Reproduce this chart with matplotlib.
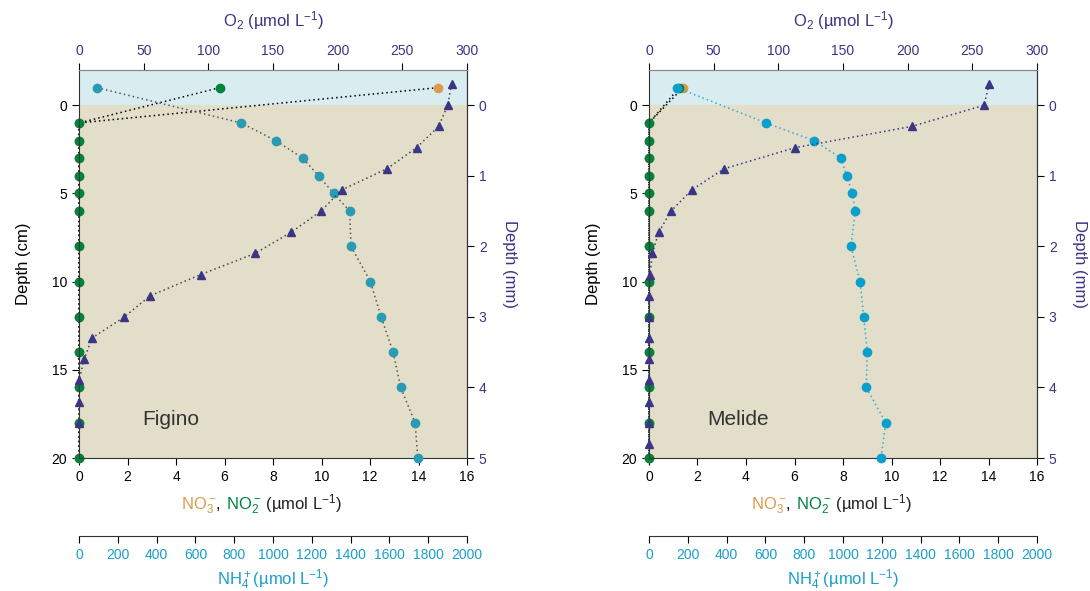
import matplotlib
matplotlib.use('Agg')
import matplotlib.pyplot as plt
from matplotlib.offsetbox import TextArea, HPacker, AnnotationBbox

plt.rcParams['font.family'] = ['Liberation Sans', 'DejaVu Sans']
plt.rcParams['mathtext.fontset'] = 'custom'
plt.rcParams['mathtext.rm'] = 'Liberation Sans'
plt.rcParams['mathtext.default'] = 'regular'

# profondeurs (cm) des nutriments, -1 = eau surnageante
depth_cm = [-1, 1, 2, 3, 4, 5, 6, 8, 10, 12, 14, 16, 18, 20]

# Figino
figino_no3 = [14.8, 0, 0, 0, 0, 0, 0, 0, 0, 0, 0, 0, 0, 0]
figino_no2 = [5.8, 0, 0, 0, 0, 0, 0, 0, 0, 0, 0, 0, 0, 0]
figino_nh4 = [93, 835, 1014, 1153, 1235, 1313, 1395, 1402, 1502, 1557, 1619, 1658, 1732, 1746]
figino_o2_mm = [-0.3, 0, 0.3, 0.6, 0.9, 1.2, 1.5, 1.8, 2.1, 2.4, 2.7, 3.0, 3.3, 3.6, 3.9, 4.2, 4.5]
figino_o2 = [288, 285, 278, 261, 238, 203, 187, 164, 136, 94, 55, 35, 10, 4, 0, 0, 0]

# Melide
melide_no3 = [1.4, 0, 0, 0, 0, 0, 0, 0, 0, 0, 0, 0, 0, 0]
melide_no2 = [1.25, 0, 0, 0, 0, 0, 0, 0, 0, 0, 0, 0, 0, 0]
melide_nh4 = [144, 603, 850, 990, 1019, 1048, 1063, 1041, 1088, 1107, 1125, 1120, 1220, 1196]
melide_o2_mm = [-0.3, 0, 0.3, 0.6, 0.9, 1.2, 1.5, 1.8, 2.1, 2.4, 2.7, 3.0, 3.3, 3.6, 3.9, 4.2, 4.5, 4.8]
melide_o2 = [263, 259, 203, 113, 58, 33, 17, 7.5, 2.6, 0.8, 0, 0, 0, 0, 0, 0, 0, 0]

sediment = '#e2dec9'
water = '#d9edf1'
green = '#00843d'
orange = '#dc9a4c'
indigo = '#3b3585'
cyan_lab = '#1a9fcb'


def panel(rect, name, no3, no2, nh4, o2_mm, o2, nh4_col, nh4_line, o2_line, lab_x):
    ax = fig.add_axes(rect)
    ax.set_xlim(0, 16)
    ax.set_ylim(20, -2)
    ax.axhspan(-2, 0, color=water, zorder=0)
    ax.axhspan(0, 20, color=sediment, zorder=0)
    ax.plot(no3, depth_cm, ls=(0, (1, 2)), color='k', lw=1.1, marker='o', ms=6,
            mfc=orange, mec=orange, clip_on=False)
    ax.plot(no2, depth_cm, ls=(0, (1, 2)), color='k', lw=1.1, marker='o', ms=6,
            mfc=green, mec=green, clip_on=False)
    ax.set_xticks(range(0, 17, 2))
    ax.set_yticks([0, 5, 10, 15, 20])
    ax.tick_params(labelsize=10, length=5, direction='out')
    ax.set_ylabel('Depth (cm)', fontsize=12, labelpad=15)
    ax.text(lab_x, 18.1, name, fontsize=15, color='#333333')
    for s in ax.spines.values():
        s.set_color('#333333')
    ax.spines['top'].set_color('#888888')

    # label NO3-, NO2- en couleurs
    parts = [TextArea('NO$_3^-$', textprops=dict(color=orange, fontsize=12)),
             TextArea(', ', textprops=dict(color='k', fontsize=12)),
             TextArea('NO$_2^-$', textprops=dict(color=green, fontsize=12)),
             TextArea(' (µmol L$^{-1}$)', textprops=dict(color='#222222', fontsize=12))]
    box = HPacker(children=parts, align='baseline', pad=0, sep=0)
    ab = AnnotationBbox(box, (0.47, -0.118), xycoords='axes fraction', frameon=False,
                        box_alignment=(0.5, 0.5))
    ax.add_artist(ab)

    # NH4 axe du bas decale
    ax_n = ax.twiny()
    ax_n.set_xlim(0, 2000)
    ax_n.plot(nh4, depth_cm, ls=(0, (1, 2)), color=nh4_line, lw=1.1, marker='o', ms=6,
              mfc=nh4_col, mec=nh4_col, clip_on=False)
    ax_n.xaxis.set_ticks_position('bottom')
    ax_n.xaxis.set_label_position('bottom')
    ax_n.spines['bottom'].set_position(('outward', 56))
    for s in ['top', 'left', 'right']:
        ax_n.spines[s].set_visible(False)
    ax_n.spines['bottom'].set_color('#333333')
    ax_n.set_xticks(range(0, 2001, 200))
    ax_n.tick_params(axis='x', labelsize=10, labelcolor=cyan_lab, length=5)
    ax_n.set_xlabel('NH$_4^+$(µmol L$^{-1}$)', fontsize=12, color=cyan_lab, labelpad=4)

    # O2 axe du haut / profondeur mm a droite
    ax_o = fig.add_axes(rect)
    ax_o.patch.set_visible(False)
    ax_o.set_xlim(0, 300)
    ax_o.set_ylim(5, -0.5)
    ax_o.plot(o2, o2_mm, ls=(0, (1, 2)), color=o2_line, lw=1.1, marker='^', ms=6,
              mfc=indigo, mec=indigo, clip_on=False)
    ax_o.xaxis.set_ticks_position('top')
    ax_o.xaxis.set_label_position('top')
    ax_o.yaxis.set_ticks_position('right')
    ax_o.yaxis.set_label_position('right')
    ax_o.spines['left'].set_visible(False)
    ax_o.spines['bottom'].set_visible(False)
    ax_o.spines['right'].set_color('#333333')
    ax_o.spines['top'].set_color('#888888')
    ax_o.set_xticks(range(0, 301, 50))
    ax_o.set_yticks(range(0, 6))
    ax_o.tick_params(labelsize=10, labelcolor=indigo, length=5)
    ax_o.set_xlabel('O$_2$ (µmol L$^{-1}$)', fontsize=12, color=indigo, labelpad=13)
    ax_o.set_ylabel('Depth (mm)', fontsize=12, color=indigo, rotation=270, labelpad=22)


fig = plt.figure(figsize=(10.9, 5.91), dpi=100)

panel([0.0725, 0.225, 0.356, 0.6565], 'Figino', figino_no3, figino_no2, figino_nh4,
      figino_o2_mm, figino_o2, '#2a9ab5', '#555555', '#444455', 2.6)
panel([0.5954, 0.225, 0.356, 0.6565], 'Melide', melide_no3, melide_no2, melide_nh4,
      melide_o2_mm, melide_o2, '#0a9fcc', '#2aaed0', indigo, 2.4)

fig.savefig('out.png', dpi=100)
